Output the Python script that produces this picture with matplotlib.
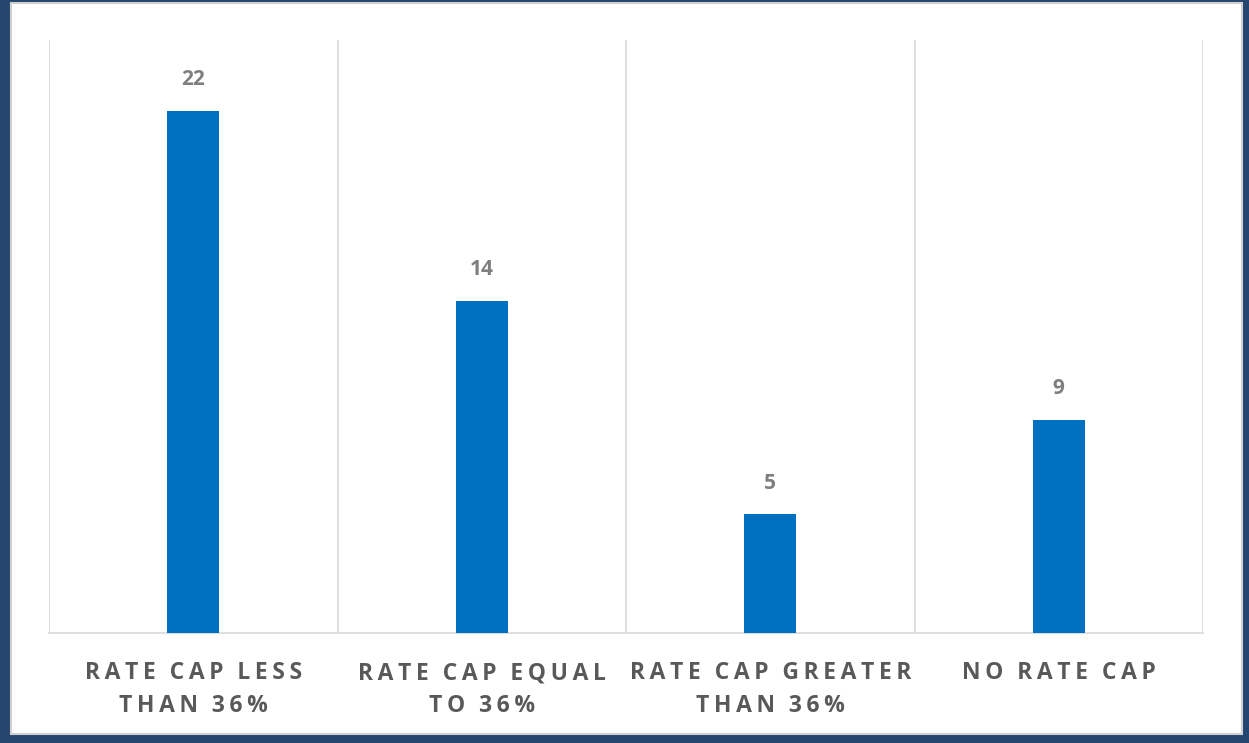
import matplotlib
matplotlib.use("Agg")
import matplotlib.pyplot as plt
from matplotlib.patches import Rectangle

categories = ["RATE CAP LESS\nTHAN 36%", "RATE CAP EQUAL\nTO 36%", "RATE CAP GREATER\nTHAN 36%", "NO RATE CAP"]
values = [22, 14, 5, 9]

W, H = 1249, 743
fig = plt.figure(figsize=(W / 100, H / 100), dpi=100)
fig.patch.set_facecolor("#24466f")

bg = fig.add_axes([0, 0, 1, 1], zorder=-5)
bg.set_xlim(0, W)
bg.set_ylim(H, 0)
bg.axis("off")
bg.add_patch(Rectangle((11, 3), 1242 - 11, 734 - 3, facecolor="white",
                       edgecolor="#d0d0d0", linewidth=1.5))

ax = fig.add_axes([49 / W, 1 - 633 / H, (1203 - 49) / W, (633 - 40) / H], zorder=1)
ax.set_facecolor("none")
x = list(range(len(categories)))
ax.bar(x, values, width=0.18, color="#0070c0", zorder=3)
ax.set_xlim(-0.5, len(categories) - 0.5)
ax.set_ylim(0, 25)

for i, v in zip(x, values):
    ax.annotate(str(v), (i, v), xytext=(0, 15), textcoords="offset points",
                ha="center", va="bottom", fontsize=15, fontweight="bold",
                color="#7f7f7f", family="Open Sans")

for b in [k - 0.5 for k in range(len(categories) + 1)]:
    ax.axvline(b, color="#d9d9d9", linewidth=1.2, zorder=1)

for s in ["top", "left", "right"]:
    ax.spines[s].set_visible(False)
ax.spines["bottom"].set_color("#d9d9d9")
ax.spines["bottom"].set_linewidth(1.2)
ax.set_yticks([])
ax.set_xticks([])

def spaced(s):
    return "\n".join("\u2009".join(list(line)).replace("\u2009 \u2009", "\u2009\u2009\u2009") for line in s.split("\n"))

for i, c in zip(x, categories):
    ax.text(i, -1.2, spaced(c), transform=ax.transData, ha="center", va="top",
            fontsize=16.5, fontweight="bold", color="#595959", family="Open Sans",
            linespacing=1.47)

fig.savefig("out.png", dpi=100, facecolor=fig.get_facecolor())
